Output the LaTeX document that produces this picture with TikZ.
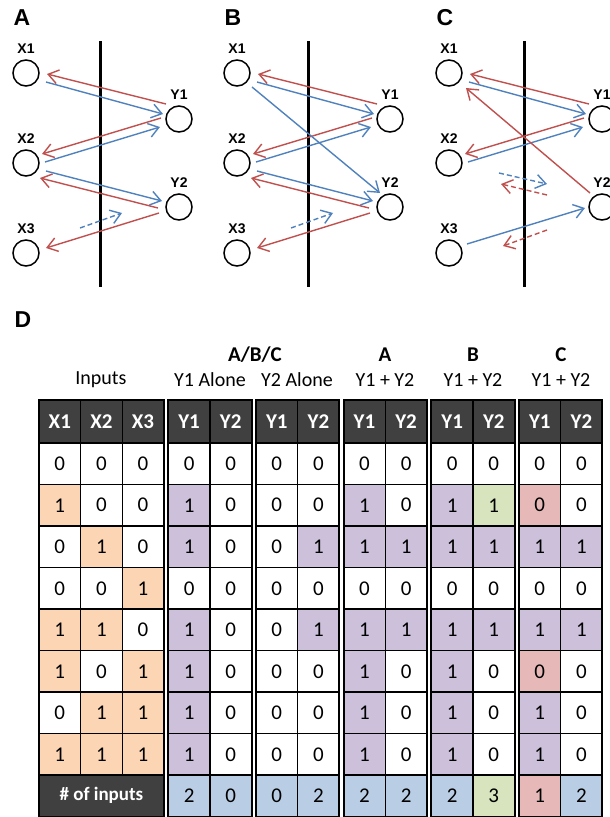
\documentclass[tikz,border=0pt]{standalone}
\usepackage{fontspec}
\setmainfont{Carlito}
\newfontfamily\arialfont{Liberation Sans}
\usetikzlibrary{arrows.meta}

\definecolor{fbred}{RGB}{192,80,77}
\definecolor{ffblue}{RGB}{79,129,189}
\definecolor{wh}{RGB}{255,255,255}
\definecolor{or}{RGB}{252,213,180}
\definecolor{pu}{RGB}{204,192,218}
\definecolor{gr}{RGB}{215,228,189}
\definecolor{rd}{RGB}{230,185,184}
\definecolor{bl}{RGB}{185,205,229}
\definecolor{headgray}{RGB}{64,64,64}

\tikzset{
  unit/.style={circle,draw,line width=1.5pt,minimum size=26pt,inner sep=0pt},
  unitname/.style={font=\arialfont\bfseries\fontsize{14}{14}\selectfont},
  panel/.style={font=\arialfont\bfseries\fontsize{23}{23}\selectfont},
  ffarrow/.style={ffblue,line width=1.4pt,-{Straight Barb[length=10pt,width=14pt]}},
  fbarrow/.style={fbred,line width=1.4pt,-{Straight Barb[length=10pt,width=14pt]}},
  dashes/.style={dash pattern=on 5pt off 3pt},
  cell/.style={draw,line width=1.3pt,minimum width=41.6pt,minimum height=41.5pt,
    inner sep=0pt,font=\fontsize{21}{21}\selectfont},
  head/.style={cell,minimum height=43pt,fill=headgray,text=white,
    font=\bfseries\fontsize{21}{21}\selectfont},
  title/.style={font=\fontsize{20}{20}\selectfont},
  btitle/.style={font=\bfseries\fontsize{21}{21}\selectfont}
}

\begin{document}
\begin{tikzpicture}[x=1pt,y=-1pt]
  \useasboundingbox (0,0) rectangle (610,817);
  \clip (0,0) rectangle (610,817);

  % three small circuits
  \foreach \p/\P/\dx/\lx in {a/A/0/100,b/B/211/97,c/C/423/101} {
    \begin{scope}[xshift=\dx pt]
      \node[panel] (\p-name) at (22,18) {\P};
      \draw[line width=3pt] (\lx,41) -- (\lx,287);
      \foreach \n/\y in {1/73,2/163,3/253} {
        \node[unit] (\p-x\n) at (26,\y) {};
        \node[unitname] (\p-x\n-lbl) at (26,\y-24) {X\n};
      }
      \foreach \n/\y in {1/119,2/207} {
        \node[unit] (\p-y\n) at (179,\y) {};
        \node[unitname] (\p-y\n-lbl) at (179,\y-24) {Y\n};
      }
    \end{scope}
  }

  % links in all circuits
  \foreach \p in {a,b,c} {
    \draw[fbarrow] ([shift={(-13,-15)}]\p-y1.center) -- ([shift={(21,1)}]\p-x1.center);
    \draw[ffarrow] ([shift={(20,9)}]\p-x1.center) -- ([shift={(-16,-5)}]\p-y1.center);
    \draw[fbarrow] ([shift={(-18,-1)}]\p-y1.center) -- ([shift={(16,-9)}]\p-x2.center);
    \draw[ffarrow] ([shift={(19,-1)}]\p-x2.center) -- ([shift={(-19,8)}]\p-y1.center);
  }
  % links in A and B
  \foreach \p in {a,b} {
    \draw[ffarrow] ([shift={(20,8)}]\p-x2.center) -- ([shift={(-17,-6)}]\p-y2.center);
    \draw[fbarrow] ([shift={(-21,1)}]\p-y2.center) -- ([shift={(14,15)}]\p-x2.center);
    \draw[fbarrow] ([shift={(-20,6)}]\p-y2.center) -- ([shift={(20,-5)}]\p-x3.center);
    \draw[ffarrow,dashes] ([shift={(54,-25)}]\p-x3.center) -- ([shift={(96,-40)}]\p-x3.center);
  }
  \draw[ffarrow] ([shift={(15,14)}]b-x1.center) -- ([shift={(-10,-14)}]b-y2.center);
  % links in C
  \draw[fbarrow] ([shift={(-12,-14)}]c-y2.center) -- ([shift={(17,15)}]c-x1.center);
  \draw[ffarrow,dashes] ([shift={(50,10)}]c-x2.center) -- ([shift={(98,21)}]c-x2.center);
  \draw[fbarrow,dashes] ([shift={(98,32)}]c-x2.center) -- ([shift={(52,21)}]c-x2.center);
  \draw[ffarrow] ([shift={(18,-9)}]c-x3.center) -- ([shift={(-17,1)}]c-y2.center);
  \draw[fbarrow,dashes] ([shift={(98,-23)}]c-x3.center) -- ([shift={(54,-7)}]c-x3.center);

  % truth table
  \node[panel] (d-name) at (23,320) {D};
  \node[title] (t-in) at (101,380) {Inputs};
  \node[btitle] (t-abc) at (255,355) {A/B/C};
  \node[title] (t-y1) at (210,380) {Y1 Alone};
  \node[title] (t-y2) at (297,380) {Y2 Alone};
  \foreach \g/\x in {A/385,B/473,C/561} {
    \node[btitle] (t-\g) at (\x,355) {\g};
    \node[title] (t-\g-sum) at (\x,380) {Y1 + Y2};
  }

  \def\colx{{59.8,101.4,143,189.1,230.7,276.8,318.4,364.5,406.1,452.2,493.8,539.8,581.4}}
  \foreach \h [count=\c] in {X1,X2,X3,Y1,Y2,Y1,Y2,Y1,Y2,Y1,Y2,Y1,Y2} {
    \pgfmathsetmacro\cx{\colx[\c-1]}
    \node[head] (head-\c) at (\cx,421.5) {\h};
  }
  \foreach \row [count=\r] in {
    {0/wh,0/wh,0/wh,0/wh,0/wh,0/wh,0/wh,0/wh,0/wh,0/wh,0/wh,0/wh,0/wh},
    {1/or,0/wh,0/wh,1/pu,0/wh,0/wh,0/wh,1/pu,0/wh,1/pu,1/gr,0/rd,0/wh},
    {0/wh,1/or,0/wh,1/pu,0/wh,0/wh,1/pu,1/pu,1/pu,1/pu,1/pu,1/pu,1/pu},
    {0/wh,0/wh,1/or,0/wh,0/wh,0/wh,0/wh,0/wh,0/wh,0/wh,0/wh,0/wh,0/wh},
    {1/or,1/or,0/wh,1/pu,0/wh,0/wh,1/pu,1/pu,1/pu,1/pu,1/pu,1/pu,1/pu},
    {1/or,0/wh,1/or,1/pu,0/wh,0/wh,0/wh,1/pu,0/wh,1/pu,0/wh,0/rd,0/wh},
    {0/wh,1/or,1/or,1/pu,0/wh,0/wh,0/wh,1/pu,0/wh,1/pu,0/wh,1/pu,0/wh},
    {1/or,1/or,1/or,1/pu,0/wh,0/wh,0/wh,1/pu,0/wh,1/pu,0/wh,1/pu,0/wh}} {
    \foreach \v/\f [count=\c] in \row {
      \pgfmathsetmacro\cx{\colx[\c-1]}
      \node[cell,fill=\f] (cell-\r-\c) at (\cx,443+41.5*\r-20.75) {\v};
    }
  }
  % totals
  \node[head,minimum width=124.8pt,minimum height=41.5pt,
    font=\bfseries\fontsize{19}{19}\selectfont] (count) at (101.4,795.75) {\# of inputs};
  \foreach \v/\f [count=\c from 4] in {2/bl,0/bl,0/bl,2/bl,2/bl,2/bl,2/bl,3/gr,1/rd,2/bl} {
    \pgfmathsetmacro\cx{\colx[\c-1]}
    \node[cell,fill=\f] (cell-9-\c) at (\cx,795.75) {\v};
  }
  % group frames
  \foreach \x/\w in {39/124.8,168.3/83.2,256/83.2,343.7/83.2,431.4/83.2,519/83.2}
    \draw[line width=2pt] (\x,400) rectangle ++(\w,416.5);
\end{tikzpicture}
\end{document}
